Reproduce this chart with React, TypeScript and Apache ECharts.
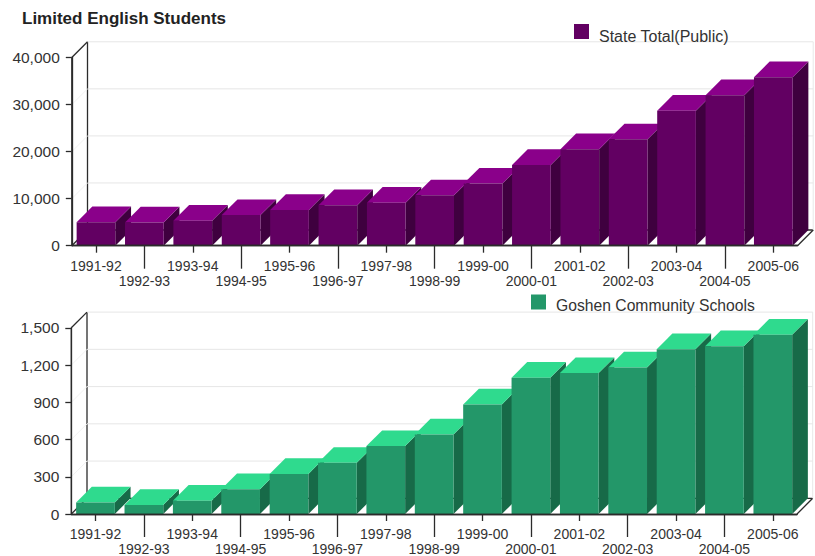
import React, { useEffect, useRef } from "react";
import * as echarts from "echarts";

const categories = ["1991-92","1992-93","1993-94","1994-95","1995-96","1996-97","1997-98","1998-99","1999-00","2000-01","2001-02","2002-03","2003-04","2004-05","2005-06"];
const stateValues = [5000,4950,5300,6500,7600,8600,9150,10700,13200,17170,20500,22600,28700,32000,35800];
const goshenValues = [93,72,107,199,322,412,547,641,883,1098,1135,1181,1327,1351,1444];
const stateTicks = [0,10000,20000,30000,40000];
const goshenTicks = [0,300,600,900,1200,1500];
const stateName = "State Total(Public)";
const goshenName = "Goshen Community Schools";
const titleText = "Limited English Students";

const DEPTH = 15.7;
const FONT = '"Liberation Sans", Arial, sans-serif';
const TEXT = "#333333";
const AXIS = "#2b2b2b";

function barItem(front: string, top: string, side: string) {
  return (params: any, api: any) => {
    const i = api.value(0);
    const p = api.coord([i, api.value(1)]);
    const b = api.coord([i, 0]);
    const w = api.size([1, 0])[0] * 0.8;
    const l = p[0] - w / 2, r = p[0] + w / 2, t = p[1], y0 = b[1];
    return {
      type: "group",
      children: [
        { type: "polygon", shape: { points: [[r, t], [r + DEPTH, t - DEPTH], [r + DEPTH, y0 - DEPTH], [r, y0]] }, style: { fill: side } },
        { type: "polygon", shape: { points: [[l, t], [l + DEPTH, t - DEPTH], [r + DEPTH, t - DEPTH], [r, t]] }, style: { fill: top } },
        { type: "rect", shape: { x: l, y: t, width: w, height: y0 - t }, style: { fill: front } },
      ],
    };
  };
}

function wallItem(params: any, api: any) {
  const tick = api.value(1);
  const cs = params.coordSys;
  const y = api.coord([0, tick])[1];
  const left = cs.x, right = cs.x + cs.width;
  const atTop = Math.abs(y - cs.y) < 0.5;
  const dark = { stroke: AXIS, lineWidth: 1.3 };
  const children: any[] = [];
  if (tick === 0) {
    children.push(
      { type: "line", shape: { x1: left, y1: y, x2: left, y2: cs.y }, style: dark },
      { type: "line", shape: { x1: left, y1: y, x2: left + DEPTH, y2: y - DEPTH }, style: dark },
      { type: "line", shape: { x1: right, y1: y, x2: right + DEPTH, y2: y - DEPTH }, style: dark },
      { type: "line", shape: { x1: left + DEPTH, y1: y - DEPTH, x2: right + DEPTH, y2: y - DEPTH }, style: dark },
      { type: "line", shape: { x1: left + DEPTH, y1: y - DEPTH, x2: left + DEPTH, y2: cs.y - DEPTH }, style: dark },
      { type: "line", shape: { x1: right + DEPTH, y1: y - DEPTH, x2: right + DEPTH, y2: cs.y - DEPTH }, style: { stroke: "#e8e8e8", lineWidth: 1 } },
    );
  } else {
    children.push(
      { type: "line", shape: { x1: left, y1: y, x2: left + DEPTH, y2: y - DEPTH }, style: atTop ? dark : { stroke: "#f2f2f2", lineWidth: 1 } },
      { type: "line", shape: { x1: left + DEPTH, y1: y - DEPTH, x2: right + DEPTH, y2: y - DEPTH }, style: { stroke: "#e6e6e6", lineWidth: 1 } },
    );
  }
  return { type: "group", children };
}

const isEven = (i: number) => i % 2 === 0;
const isOdd = (i: number) => i % 2 === 1;

function xAxisPair(gridIndex: number) {
  const base = {
    type: "category", data: categories, gridIndex, position: "bottom", z: 5,
    axisLine: { show: true, lineStyle: { color: AXIS, width: 1.3 } },
  };
  const label = { color: TEXT, fontFamily: FONT, fontSize: 14, hideOverlap: false };
  return [
    { ...base, axisTick: { show: true, alignWithLabel: true, interval: isEven, length: 7, lineStyle: { color: AXIS, width: 1.3 } },
      axisLabel: { ...label, interval: isEven, margin: 13 } },
    { ...base, axisTick: { show: true, alignWithLabel: true, interval: isOdd, length: 23, lineStyle: { color: AXIS, width: 1.3 } },
      axisLabel: { ...label, interval: isOdd, margin: 28 } },
  ];
}

function yAxis(gridIndex: number, max: number, interval: number) {
  return {
    type: "value", gridIndex, min: 0, max, interval, z: 5,
    splitLine: { show: false },
    axisLine: { show: true, lineStyle: { color: AXIS, width: 1.3 } },
    axisTick: { show: true, length: 6, lineStyle: { color: AXIS, width: 1.3 } },
    axisLabel: { color: TEXT, fontFamily: FONT, fontSize: 15.5, margin: 12,
      formatter: (v: number) => v.toLocaleString("en-US") },
  };
}

const legendLabel = (text: string, left: number, top: number, fontSize: number) => ({
  text, left, top, padding: 0, textStyle: { fontFamily: FONT, fontSize, fontWeight: "normal", color: TEXT },
});

export default function App() {
  const ref = useRef<HTMLDivElement>(null);
  useEffect(() => {
    const chart = echarts.init(ref.current!, undefined, { renderer: "svg" });
    chart.setOption({
      animation: false,
      backgroundColor: "#ffffff",
      title: [
        { text: titleText, left: 22, top: 10, padding: 0, textStyle: { fontFamily: FONT, fontSize: 17, fontWeight: "bold", color: "#222222" } },
        legendLabel(stateName, 599, 28, 16),
        legendLabel(goshenName, 556, 297, 15.7),
      ],
      legend: [
        { data: [stateName], left: 574, top: 24, itemWidth: 15, itemHeight: 15, icon: "rect", padding: 0, formatter: () => "" },
        { data: [goshenName], left: 531, top: 294.5, itemWidth: 15, itemHeight: 15, icon: "rect", padding: 0, formatter: () => "" },
      ],
      grid: [
        { left: 71.8, top: 57.5, width: 725.7, height: 188.2 },
        { left: 71.3, top: 327.8, width: 725.7, height: 188.0 },
      ],
      xAxis: [...xAxisPair(0), ...xAxisPair(1)],
      yAxis: [yAxis(0, 40000, 10000), yAxis(1, 1500, 300)],
      series: [
        { type: "custom", xAxisIndex: 0, yAxisIndex: 0, silent: true, renderItem: wallItem, data: stateTicks.map((t) => [0, t]) },
        { type: "custom", name: stateName, xAxisIndex: 0, yAxisIndex: 0, renderItem: barItem("#620062", "#8a008a", "#3f003f"), itemStyle: { color: "#620062" },
          data: stateValues.map((v, i) => [i, v]) },
        { type: "custom", xAxisIndex: 2, yAxisIndex: 1, silent: true, renderItem: wallItem, data: goshenTicks.map((t) => [0, t]) },
        { type: "custom", name: goshenName, xAxisIndex: 2, yAxisIndex: 1, renderItem: barItem("#239769", "#2fda8e", "#176a48"), itemStyle: { color: "#239769" },
          data: goshenValues.map((v, i) => [i, v]) },
      ],
    });
    return () => chart.dispose();
  }, []);
  return <div ref={ref} style={{ position: "absolute", left: 0, top: 0, width: 815, height: 556 }} />;
}
